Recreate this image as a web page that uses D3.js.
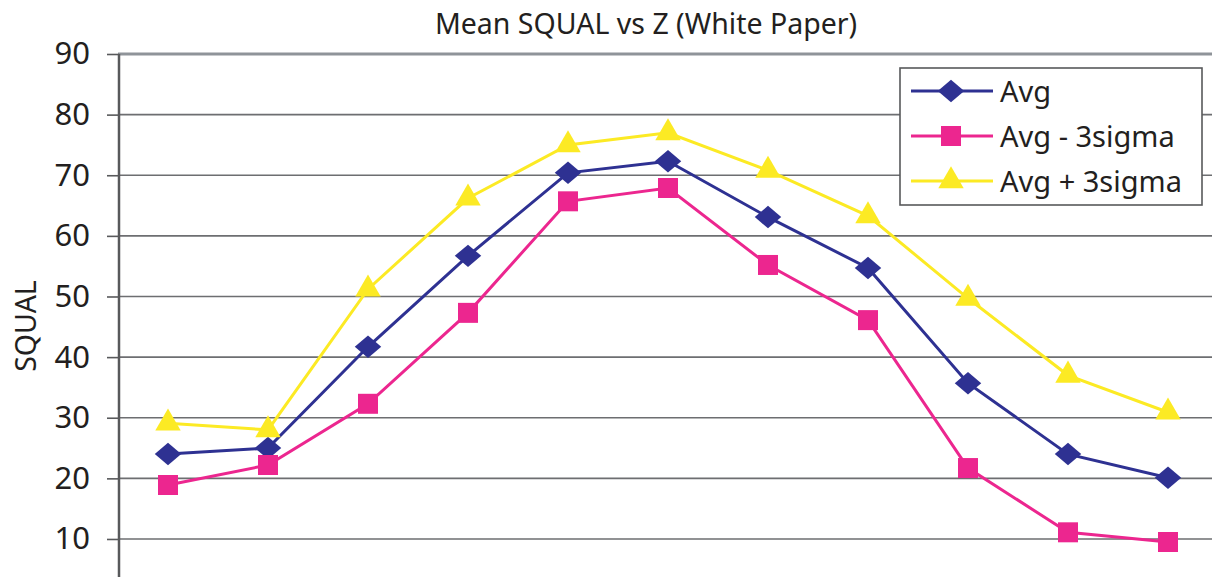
<!DOCTYPE html>
<html>
<head>
<meta charset="utf-8">
<script src="https://cdn.jsdelivr.net/npm/d3@7"></script>
<style>
  html, body { margin: 0; padding: 0; background: #fff; }
  svg { display: block; font-family: "Noto Sans", "Open Sans", sans-serif; }
</style>
</head>
<body>
<svg id="chart" width="1212" height="577"></svg>
<script>
// Z positions (x labels fall below the visible area)
var categories = ["1", "2", "3", "4", "5", "6", "7", "8", "9", "10", "11"];
var avg = [24.0, 25.0, 41.7, 56.7, 70.4, 72.3, 63.1, 54.7, 35.7, 24.0, 20.1];
var avgMinus3Sigma = [18.9, 22.2, 32.3, 47.3, 65.7, 67.9, 55.2, 46.1, 21.7, 11.1, 9.5];
var avgPlus3Sigma = [29.1, 28.0, 51.2, 66.2, 75.0, 77.0, 70.8, 63.3, 49.7, 37.0, 30.9];
var yTicks = [10, 20, 30, 40, 50, 60, 70, 80, 90];

// flat diamond, a bit wider than tall
var flatDiamond = {
    draw: function (context, size) {
        var w = Math.sqrt(size) / 2, h = w * 0.85;
        context.moveTo(0, -h);
        context.lineTo(w, 0);
        context.lineTo(0, h);
        context.lineTo(-w, 0);
        context.closePath();
    }
};

var series = [
    {name: "Avg", values: avg, color: "#2e3192", marker: flatDiamond, size: 700},
    {name: "Avg - 3sigma", values: avgMinus3Sigma, color: "#ec268f", marker: d3.symbolSquare, size: 400},
    {name: "Avg + 3sigma", values: avgPlus3Sigma, color: "#fcea24", marker: d3.symbolTriangle, size: 280}
];

var svg = d3.select("#chart"),
    marginLeft = 118,
    plotRight = 1218,
    plotTop = 54,
    plotBottom = 599.6;

var x = d3.scaleBand().domain(categories).range([marginLeft, plotRight]).padding(0);
var y = d3.scaleLinear().domain([0, 90]).range([plotBottom, plotTop]);
var cx = function (i) { return x(categories[i]) + x.bandwidth() / 2; };

// title
svg.append("text")
    .attr("x", 646).attr("y", 34)
    .attr("text-anchor", "middle")
    .attr("font-size", 28.5)
    .attr("fill", "#231f20")
    .text("Mean SQUAL vs Z (White Paper)");

// gridlines
svg.append("g").selectAll("line")
    .data(yTicks)
    .join("line")
    .attr("x1", marginLeft).attr("x2", plotRight)
    .attr("y1", function (d) { return y(d); })
    .attr("y2", function (d) { return y(d); })
    .attr("stroke", function (d) { return d === 90 ? "#8f9499" : "#6d6e71"; })
    .attr("stroke-width", function (d) { return d === 90 ? 3 : 1.6; });

// y axis
var yAxis = d3.axisLeft(y).tickValues(yTicks).tickSize(12).tickPadding(17);
var gy = svg.append("g")
    .attr("transform", "translate(" + (marginLeft + 1) + ",0)")
    .call(yAxis);
gy.select(".domain").remove();
gy.selectAll(".tick line").attr("stroke", "#58595b").attr("stroke-width", 1.6);
gy.selectAll(".tick text")
    .attr("font-size", 31)
    .attr("font-family", "\"Noto Sans\", sans-serif")
    .attr("fill", "#231f20");
svg.append("line")
    .attr("x1", marginLeft + 1).attr("x2", marginLeft + 1)
    .attr("y1", plotTop).attr("y2", 577)
    .attr("stroke", "#58595b").attr("stroke-width", 2.5);

// y label
svg.append("text")
    .attr("transform", "translate(36," + 326 + ") rotate(-90)")
    .attr("text-anchor", "middle")
    .attr("font-size", 28.5)
    .attr("fill", "#231f20")
    .text("SQUAL");

// lines and markers
var line = d3.line()
    .x(function (d, i) { return cx(i); })
    .y(function (d) { return y(d); });

series.forEach(function (s) {
    svg.append("path")
        .datum(s.values)
        .attr("fill", "none")
        .attr("stroke", s.color)
        .attr("stroke-width", 3)
        .attr("d", line);
});

series.forEach(function (s) {
    var sym = d3.symbol().type(s.marker).size(s.size);
    svg.append("g").selectAll("path")
        .data(s.values)
        .join("path")
        .attr("d", sym)
        .attr("transform", function (d, i) {
            return "translate(" + cx(i) + "," + y(d) + ")";
        })
        .attr("fill", s.color);
});

// legend
var legend = svg.append("g");
legend.append("rect")
    .attr("x", 900).attr("y", 68)
    .attr("width", 302).attr("height", 137)
    .attr("fill", "#fff")
    .attr("stroke", "#58595b").attr("stroke-width", 1.6);

series.forEach(function (s, i) {
    var ly = 91 + i * 45;
    var row = legend.append("g");
    row.append("line")
        .attr("x1", 911).attr("x2", 993)
        .attr("y1", ly).attr("y2", ly)
        .attr("stroke", s.color).attr("stroke-width", 3);
    row.append("path")
        .attr("d", d3.symbol().type(s.marker).size(s.size))
        .attr("transform", "translate(951," + ly + ")")
        .attr("fill", s.color);
    row.append("text")
        .attr("x", 1000).attr("y", ly + 11)
        .attr("font-size", 29)
        .attr("fill", "#231f20")
        .text(s.name);
});
</script>
</body>
</html>
